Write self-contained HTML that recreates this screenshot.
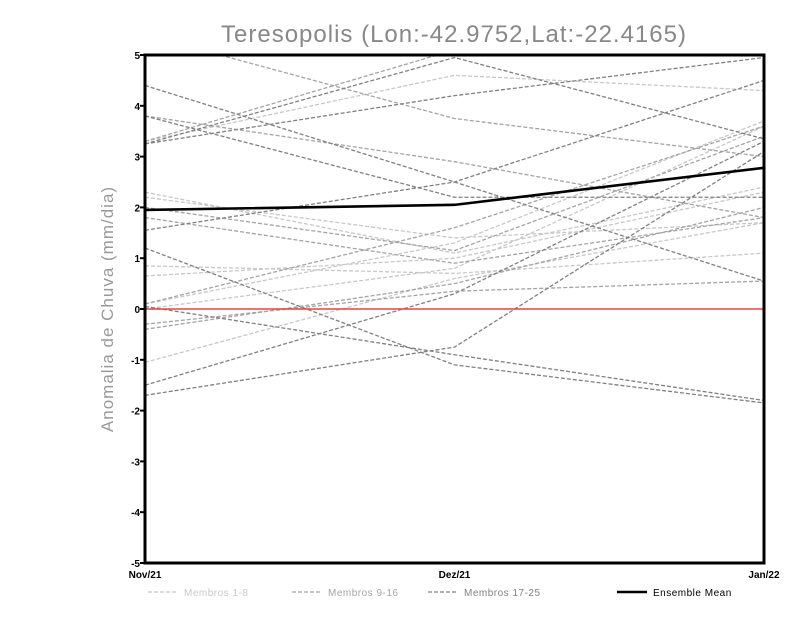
<!DOCTYPE html>
<html><head><meta charset="utf-8"><style>
body{margin:0;background:#fff;width:800px;height:618px;overflow:hidden}
svg{display:block}
</style></head><body>
<svg id="chart" width="800" height="618" xmlns="http://www.w3.org/2000/svg" font-family="Liberation Sans, sans-serif">
<text x="454" y="42" text-anchor="middle" font-size="24" fill="#888" letter-spacing="1">Teresopolis (Lon:-42.9752,Lat:-22.4165)</text>
<text transform="translate(113,309) rotate(-90)" text-anchor="middle" font-size="17" fill="#999" letter-spacing="1">Anomalia de Chuva (mm/dia)</text>
<g id="plot"></g>
</svg>
<script>
const months=["Nov/21","Dez/21","Jan/22"];
const yTicks=[-5,-4,-3,-2,-1,0,1,2,3,4,5];
const light=[[2.3,1.1,2.4],[2.2,1.4,1.7],[0.85,0.7,1.1],[0.65,1.0,2.3],[0.1,1.3,3.7],[-1.05,0.6,1.7],[3.3,4.6,4.3],[0.0,0.8,3.6]];
const mid=[[3.3,5.1,5.3],[3.8,2.9,1.8],[2.0,1.15,3.4],[0.1,1.6,3.6],[-0.3,0.35,0.55],[-0.4,0.5,2.0],[5.4,3.75,3.0],[1.8,0.9,1.8]];
const dark=[[4.4,2.5,0.55],[3.25,4.2,4.95],[3.25,4.95,3.35],[3.8,2.2,2.2],[1.55,2.5,4.5],[1.2,-1.1,-1.85],[0.05,-0.9,-1.8],[-1.7,-0.75,3.1],[-1.5,0.3,3.3]];
const ensembleMean=[1.95,2.05,2.78];
const X0=145,X1=764,Y0=563,Y1=55;
const xS=i=>X0+(X1-X0)*i/(months.length-1);
const yS=v=>Y0-(v+5)/10*(Y0-Y1);
const NS="http://www.w3.org/2000/svg";
const plot=document.getElementById('plot');
function mk(t,a){const e=document.createElementNS(NS,t);for(const k in a)e.setAttribute(k,a[k]);return e;}
const defs=mk('defs',{});const cp=mk('clipPath',{id:'clip'});cp.appendChild(mk('rect',{x:X0,y:Y1,width:X1-X0,height:Y0-Y1}));defs.appendChild(cp);plot.appendChild(defs);
const lines=mk('g',{'clip-path':'url(#clip)'});plot.appendChild(lines);
function series(arr,color,name){arr.forEach((s,j)=>{const p=mk('polyline',{points:s.map((v,i)=>xS(i)+','+yS(v)).join(' '),fill:'none',stroke:color,'stroke-width':1.3,'stroke-dasharray':'4,2'});


lines.appendChild(p);});}
series(light,'#c8c8c8','member-light');
series(mid,'#a4a4a4','member-mid');
series(dark,'#808080','member-dark');
const zl=mk('line',{x1:X0,x2:X1,y1:yS(0),y2:yS(0),stroke:'#f04040','stroke-width':1.5});


plot.appendChild(zl);
const em=mk('polyline',{points:ensembleMean.map((v,i)=>xS(i)+','+yS(v)).join(' '),fill:'none',stroke:'#000','stroke-width':2.6});


plot.appendChild(em);
const fr=mk('rect',{x:X0,y:Y1,width:X1-X0,height:Y0-Y1,fill:'none',stroke:'#000','stroke-width':3});


plot.appendChild(fr);
yTicks.forEach(v=>{const t=mk('line',{x1:X0-5,x2:X0,y1:yS(v),y2:yS(v),stroke:'#000','stroke-width':2});plot.appendChild(t);
const l=mk('text',{x:X0-5,y:yS(v)+4,'text-anchor':'end','font-size':10,'font-weight':'bold',fill:'#000'});l.textContent=v;


plot.appendChild(l);});
months.forEach((m,i)=>{const l=mk('text',{x:xS(i),y:578,'text-anchor':'middle','font-size':10,'font-weight':'bold',fill:'#000'});l.textContent=m;


plot.appendChild(l);});
const leg=[['Membros 1-8','#c8c8c8',148,'4,2',1.2],['Membros 9-16','#a4a4a4',292,'4,2',1.2],['Membros 17-25','#808080',428,'4,2',1.2],['Ensemble Mean','#000',617,'',2.4]];
leg.forEach(e=>{const g=mk('g',{});


g.appendChild(mk('line',{x1:e[2],x2:e[2]+30,y1:592,y2:592,stroke:e[1],'stroke-width':e[4],'stroke-dasharray':e[3]}));
const t=mk('text',{x:e[2]+36,y:596,'font-size':10,fill:e[0]==='Ensemble Mean'?'#000':e[1],'letter-spacing':'0.5'});t.textContent=e[0];g.appendChild(t);plot.appendChild(g);});
</script>
</body></html>
